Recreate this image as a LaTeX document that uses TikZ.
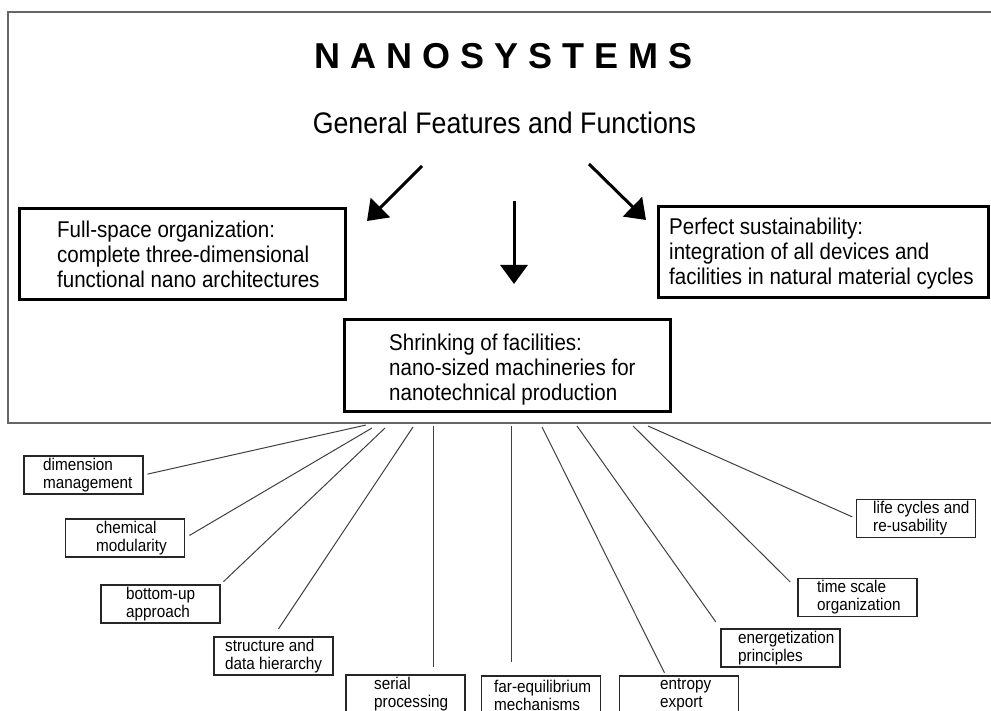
\documentclass[tikz,border=0pt]{standalone}
\usepackage{fontspec}
\setmainfont{Liberation Sans}[FakeStretch=0.9]
\newfontfamily\titlefont{Liberation Sans}
\usetikzlibrary{arrows.meta}

\newcommand{\feature}[6]{\node[fbox,minimum width=#4] (#1) at (#2,#3) {};
	\node[ftext] (#1-t) at (#5) {#6}}
\newcommand{\topic}[6]{\node[tbox] (#1) at (#2,#3) {};
	\node[ttext] (#1-t) at (#4,#3) {#5\\#6}}

\begin{document}
\begin{tikzpicture}[x=1pt,y=-1pt,
	fbox/.style={draw,line width=3pt,minimum height=91pt,inner sep=0pt},
	ftext/.style={anchor=west,align=left,inner sep=0pt,font=\fontsize{22.8}{25}\selectfont},
	tbox/.style={draw=black!85,line width=1.2pt,minimum width=119pt,minimum height=38pt,inner sep=0pt},
	ttext/.style={anchor=west,align=left,inner sep=0pt,font=\fontsize{17}{18}\selectfont},
	bigarrow/.style={line width=3pt,-{Triangle[width=27pt,length=19pt]}},
	spoke/.style={draw=black!75,line width=1pt}]
	\useasboundingbox (0,0) rectangle (991,711);
	\clip (0,0) rectangle (991,711);
	\draw[black!60,line width=1.5pt] (8,12) rectangle (1000,423);
	\node[anchor=base,font=\titlefont\bfseries\fontsize{36}{40}\selectfont] (title) at (503.5,69) {N A N O S Y S T E M S};
	\node[anchor=base,font=\fontsize{29.7}{34}\selectfont] (subtitle) at (504.5,134) {General Features and Functions};
	% the three features
	\feature{fullsp}{182}{254.5}{326pt}{57,254}{Full-space organization:\\complete three-dimensional\\functional nano architectures};
	\feature{sustain}{823}{252.5}{330pt}{669,254}{Perfect sustainability:\\integration of all devices and\\facilities in natural material cycles};
	\feature{shrink}{507}{365.5}{326pt}{389,370}{Shrinking of facilities:\\nano-sized machineries for\\nanotechnical production};
	\coordinate (la-s) at (422,166);
	\coordinate (la-e) at (367,221);
	\coordinate (ma-s) at (514,201);
	\coordinate (ma-e) at (514,284);
	\coordinate (ra-s) at (589,164);
	\coordinate (ra-e) at (646,220);
	\draw[bigarrow] (la-s) -- (la-e);
	\draw[bigarrow] (ma-s) -- (ma-e);
	\draw[bigarrow] (ra-s) -- (ra-e);
	% topics
	\topic{dim}{83.5}{475}{43}{dimension}{management};
	\topic{chem}{125}{538}{96}{chemical}{modularity};
	\topic{botup}{160.5}{604}{126}{bottom-up}{approach};
	\topic{struc}{273.5}{656}{225}{structure and}{data hierarchy};
	\topic{serial}{405.5}{694}{374}{serial}{processing};
	\topic{fareq}{541}{695}{494}{far-equilibrium}{mechanisms};
	\topic{entro}{679}{695}{660}{entropy}{export};
	\topic{energ}{780.5}{648}{738}{energetization}{principles};
	\topic{tscale}{857.5}{597.5}{817}{time scale}{organization};
	\topic{life}{916}{518.5}{873}{life cycles and}{re-usability};
	\coordinate (h-dim) at (366,425);
	\coordinate (h-chem) at (372,428);
	\coordinate (h-botup) at (385,428);
	\coordinate (h-struc) at (413,427);
	\coordinate (h-serial) at (433,426);
	\coordinate (h-fareq) at (511,426);
	\coordinate (h-entro) at (542,427);
	\coordinate (h-energ) at (577,426);
	\coordinate (h-tscale) at (633,426);
	\coordinate (h-life) at (648,426);
	\draw[spoke,shorten >=4pt] (h-dim) -- (dim.east);
	\draw[spoke,shorten >=5pt] (h-chem) -- (chem.east);
	\draw[spoke,shorten >=4pt] (h-botup) -- (botup.north east);
	\draw[spoke,shorten >=9pt] (h-struc) -- (struc.north);
	\draw[spoke,shorten >=7pt] (h-serial) -- (h-serial |- serial.north);
	\draw[spoke,shorten >=13pt] (h-fareq) -- (h-fareq |- fareq.north);
	\draw[spoke,shorten >=3pt] (h-entro) -- (entro.124);
	\draw[spoke,shorten >=8pt] (h-energ) -- (energ.north west);
	\draw[spoke,shorten >=10pt] (h-tscale) -- (tscale.172);
	\draw[spoke,shorten >=4pt] (h-life) -- (life.west);
\end{tikzpicture}
\end{document}
